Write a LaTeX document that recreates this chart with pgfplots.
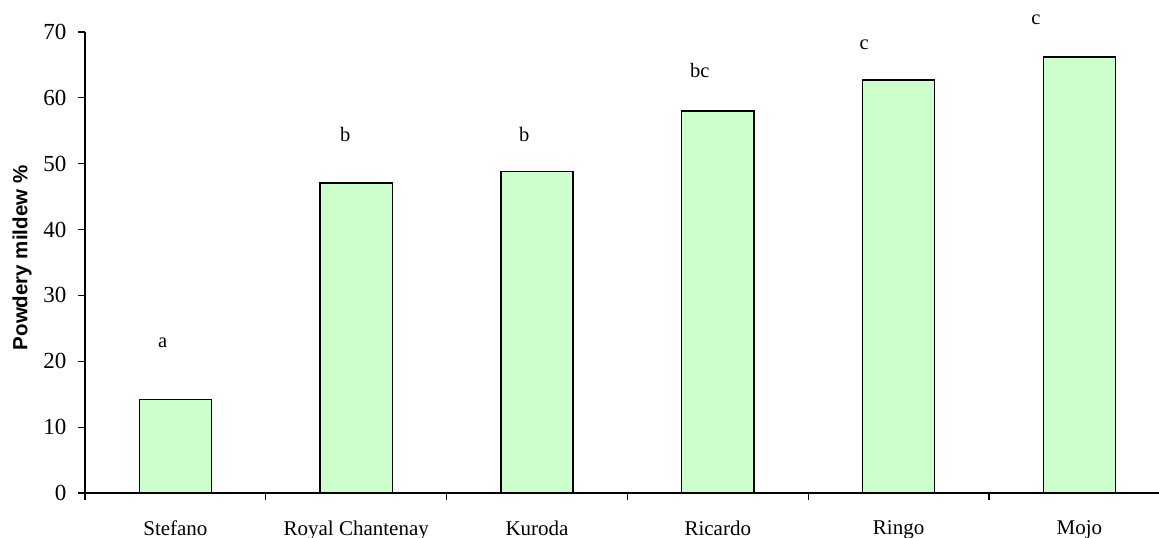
\documentclass[border=0pt]{standalone}
\usepackage{pgfplots}
\pgfplotsset{compat=1.18}
\usepackage{fontspec}
\setmainfont{Liberation Serif}
\newfontfamily\arialfont{Liberation Sans}
\definecolor{barfill}{HTML}{CCFFCC}
\begin{document}
\begin{tikzpicture}
\begin{axis}[
  at={(0,0)}, anchor=south west,
  scale only axis, width=1074pt, height=461pt,
  xmin=-0.5, xmax=5.44, ymin=0, ymax=70,
  axis lines=left, axis line style={-, line width=1.2pt},
  ytick={0,10,...,70},
  xtick={0,1,2,3,4,5},
  xticklabels={Stefano, Royal Chantenay, Kuroda, Ricardo, Ringo, Mojo},
  minor xtick={-0.5,0.5,1.5,2.5,3.5,4.5},
  major x tick style={draw=none},
  tick align=outside,
  minor tick length=7pt, major tick length=7pt,
  tick style={line width=1.2pt, black},
  xticklabel style={font=\fontsize{21}{24}\selectfont, yshift=-17pt},
  yticklabel style={font=\fontsize{23}{26}\selectfont, xshift=-8pt},
  /pgf/number format/assume math mode=true,
  ylabel={\arialfont\bfseries Powdery mildew \%},
  ylabel style={font=\fontsize{20.5}{24}\selectfont, at={(axis description cs:-0.0587,0.51)}, anchor=center},
  clip=false,
]
\addplot[ybar, bar width=0.4, fill=barfill, draw=black, line width=1.4pt]
  coordinates {(0,14.2) (1,47.1) (2,48.8) (3,58.0) (4,62.7) (5,66.2)};
\node[font=\fontsize{20.5}{24}\selectfont] at (axis cs:-0.07,22.8) {a};
\node[font=\fontsize{20.5}{24}\selectfont] at (axis cs:0.94,54.4) {b};
\node[font=\fontsize{20.5}{24}\selectfont] at (axis cs:1.93,54.4) {b};
\node[font=\fontsize{20.5}{24}\selectfont] at (axis cs:2.90,64.2) {bc};
\node[font=\fontsize{20.5}{24}\selectfont] at (axis cs:3.81,68.0) {c};
\node[font=\fontsize{20.5}{24}\selectfont] at (axis cs:4.76,71.9) {c};
\end{axis}
\pgfresetboundingbox
\useasboundingbox (-85pt,-45pt) rectangle (1074pt,493pt);
\end{tikzpicture}
\end{document}
